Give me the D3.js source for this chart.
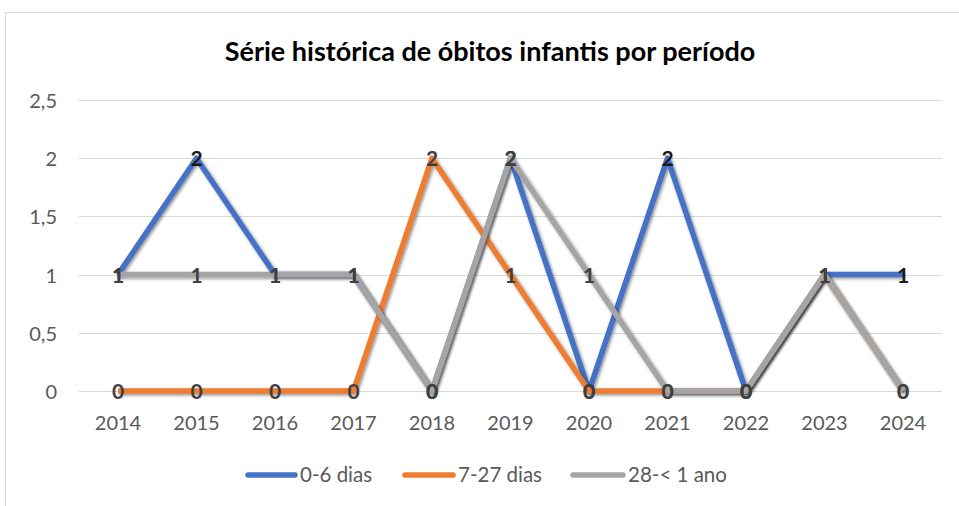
<!DOCTYPE html>
<html><head><meta charset="utf-8">
<script src="https://cdn.jsdelivr.net/npm/d3@7"></script>
<style>body{margin:0;background:#fff;}svg{display:block;font-family:Lato,"Open Sans",sans-serif;}</style>
</head><body>
<svg id="c" width="959" height="506"></svg>
<script>
const years = ["2014","2015","2016","2017","2018","2019","2020","2021","2022","2023","2024"];
const s06 = [1,2,1,1,0,2,0,2,0,1,1];
const s727 = [0,0,0,0,2,1,0,0,0,1,0];
const s28 = [1,1,1,1,0,2,1,0,0,1,0];
const seriesNames = ["0-6 dias","7-27 dias","28-< 1 ano"];
const colors = ["#4472c4","#ed7d31","#a5a5a5"];
const yTicks = [0,0.5,1,1.5,2,2.5];
const series = [s06,s727,s28];

const svg = d3.select("#c");
const defs = svg.append("defs");
const f = defs.append("filter").attr("id","sh").attr("x","-20%").attr("y","-20%").attr("width","140%").attr("height","140%");
f.append("feDropShadow").attr("dx",1.5).attr("dy",1.5).attr("stdDeviation",1.6).attr("flood-color","#000").attr("flood-opacity",0.45);

svg.append("rect").attr("x",5.5).attr("y",12.5).attr("width",980).attr("height",520)
  .attr("fill","#fff").attr("stroke","#d9d9d9").attr("stroke-width",1);

const left = 78.75, right = 942.25;
const x = d3.scalePoint().domain(years).range([left, right]).padding(0.5);
const y = d3.scaleLinear().domain([0,2.5]).range([391, 100]);

svg.append("text").attr("x",490).attr("y",61).attr("text-anchor","middle")
  .attr("font-size",27).attr("font-weight","bold").attr("fill","#000")
  .text("Série histórica de óbitos infantis por período");

// gridlines
svg.append("g").selectAll("line").data(yTicks).join("line")
  .attr("x1",left).attr("x2",right).attr("y1",d=>Math.round(y(d))+0.5).attr("y2",d=>Math.round(y(d))+0.5)
  .attr("stroke","#d9d9d9").attr("stroke-width",1);

const fmt = d => String(d).replace(".",",");
svg.append("g").selectAll("text").data(yTicks).join("text")
  .attr("x",57).attr("y",d=>y(d)+8).attr("text-anchor","end")
  .attr("font-size",20).attr("fill","#595959").text(fmt);

svg.append("g").selectAll("text").data(years).join("text")
  .attr("x",d=>x(d)).attr("y",430).attr("text-anchor","middle")
  .attr("font-size",20).attr("fill","#595959").text(d=>d);

const line = d3.line().x((d,i)=>x(years[i])).y(d=>y(d));
series.forEach((s,k)=>{
  svg.append("path").datum(s).attr("d",line).attr("fill","none")
    .attr("stroke",colors[k]).attr("stroke-width",5.5).attr("stroke-linejoin","round")
    .attr("filter","url(#sh)");
});
series.forEach((s,k)=>{
  svg.append("g").selectAll("text").data(s).join("text")
    .attr("x",(d,i)=>x(years[i])).attr("y",d=>y(d)+8)
    .attr("text-anchor","middle").attr("font-size",21).attr("font-weight","bold")
    .attr("fill", k===0 ? "#1a1a1a" : "#404040").text(d=>d);
});

// legend
const lg = [{x:245,tx:300},{x:402,tx:458},{x:570,tx:628}];
seriesNames.forEach((n,k)=>{
  svg.append("line").attr("x1",lg[k].x+3).attr("x2",lg[k].tx-5).attr("y1",475).attr("y2",475)
    .attr("stroke",colors[k]).attr("stroke-width",5.5).attr("stroke-linecap","round");
  svg.append("text").attr("x",lg[k].tx).attr("y",482).attr("font-size",20.5).attr("fill","#595959").text(n);
});
</script>
</body></html>
